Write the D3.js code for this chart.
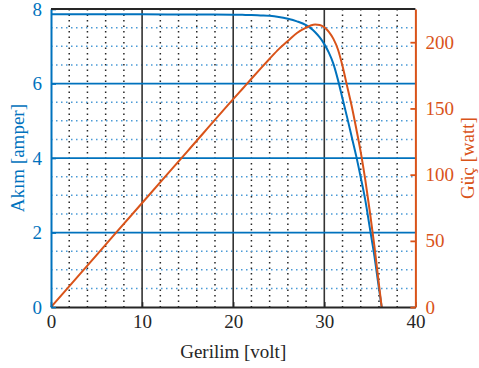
<!DOCTYPE html>
<html><head><meta charset="utf-8">
<script src="https://cdn.jsdelivr.net/npm/d3@7"></script>
<style>html,body{margin:0;padding:0;background:#fff;}svg{display:block;}
text{font-family:"Liberation Serif","Tinos","Times New Roman",Times,"Noto Serif","DejaVu Serif",serif;}</style>
</head><body>
<svg id="c" width="479" height="368"></svg>
<script>
// Data
const voltage = [0, 5, 10, 15, 20, 21, 22, 23, 24, 25, 26, 27, 28, 28.5, 29, 29.5, 30, 30.5, 31, 31.5, 32, 32.5, 33, 33.5, 34, 34.5, 35, 35.5, 36, 36.3];
const current = [7.86, 7.86, 7.86, 7.855, 7.85, 7.845, 7.84, 7.83, 7.82, 7.79, 7.74, 7.67, 7.57, 7.49, 7.38, 7.24, 7.06, 6.83, 6.53, 6.1, 5.6, 5.1, 4.58, 4.06, 3.48, 2.87, 2.12, 1.37, 0.5, 0];
const power = [0, 39.3, 78.6, 117.8, 157, 164.7, 172.4, 180, 187.5, 194.8, 201, 207, 211, 212.6, 213.4, 213, 211.3, 207.8, 202.5, 194.5, 182, 167, 152, 135, 117, 96, 72, 46, 17, 0];
const xTicks = [0, 10, 20, 30, 40];
const leftTicks = [0, 2, 4, 6, 8];
const rightTicks = [0, 50, 100, 150, 200];
const xMinor = [2, 4, 6, 8, 12, 14, 16, 18, 22, 24, 26, 28, 32, 34, 36, 38];
const yMinor = [0.5, 1, 1.5, 2.5, 3, 3.5, 4.5, 5, 5.5, 6.5, 7, 7.5];

const BLUE = "#0072BD", ORANGE = "#D95319", DARK = "#262626";
const L = 51, R = 415.4, T = 9.1, B = 307.1;

const svg = d3.select("#c");
const x = d3.scaleLinear().domain([0, 40]).range([L, R]);
const yL = d3.scaleLinear().domain([0, 8]).range([B, T]);
const yR = d3.scaleLinear().domain([0, 225]).range([B, T]);

// minor grid
svg.append("g").selectAll("line").data(xMinor).join("line")
  .attr("x1", d => x(d)).attr("x2", d => x(d)).attr("y1", T).attr("y2", B)
  .attr("stroke", DARK).attr("stroke-width", 1.5).attr("stroke-dasharray", "1.5,4");
svg.append("g").selectAll("line").data(yMinor).join("line")
  .attr("x1", L).attr("x2", R).attr("y1", d => yL(d)).attr("y2", d => yL(d))
  .attr("stroke", "#4a9ad6").attr("stroke-width", 1.5).attr("stroke-dasharray", "1.5,3.5");
// major grid
svg.append("g").selectAll("line").data(xTicks.slice(1, 4)).join("line")
  .attr("x1", d => x(d)).attr("x2", d => x(d)).attr("y1", T).attr("y2", B)
  .attr("stroke", "#333").attr("stroke-width", 1.6);
svg.append("g").selectAll("line").data(leftTicks.slice(1, 4)).join("line")
  .attr("x1", L).attr("x2", R).attr("y1", d => yL(d)).attr("y2", d => yL(d))
  .attr("stroke", BLUE).attr("stroke-width", 1.8);

// curves
const idx = d3.range(voltage.length);
svg.append("path").datum(idx)
  .attr("d", d3.line().x(i => x(voltage[i])).y(i => yL(current[i])).curve(d3.curveMonotoneX))
  .attr("fill", "none").attr("stroke", BLUE).attr("stroke-width", 2);
svg.append("path").datum(idx)
  .attr("d", d3.line().x(i => x(voltage[i])).y(i => yR(power[i])).curve(d3.curveMonotoneX))
  .attr("fill", "none").attr("stroke", ORANGE).attr("stroke-width", 2);

// axes
const ax = svg.append("g").attr("transform", `translate(0,${B})`)
  .call(d3.axisBottom(x).tickValues(xTicks).tickSizeInner(-5).tickSizeOuter(0).tickPadding(14));
ax.attr("font-family", null);
ax.select(".domain").attr("stroke", DARK).attr("stroke-width", 2);
ax.selectAll(".tick line").attr("stroke", DARK).attr("stroke-width", 1.5);
ax.selectAll("text").attr("font-size", 19).attr("fill", DARK).attr("dy", "0.35em");

const al = svg.append("g").attr("transform", `translate(${L},0)`)
  .call(d3.axisLeft(yL).tickValues(leftTicks).tickSizeInner(-5).tickSizeOuter(0).tickPadding(9));
al.attr("font-family", null);
al.select(".domain").attr("stroke", BLUE).attr("stroke-width", 2);
al.selectAll(".tick line").attr("stroke", BLUE).attr("stroke-width", 1.5);
al.selectAll("text").attr("font-size", 19).attr("fill", BLUE);

const ar = svg.append("g").attr("transform", `translate(${R},0)`)
  .call(d3.axisRight(yR).tickValues(rightTicks).tickSizeInner(-5).tickSizeOuter(0).tickPadding(10));
ar.attr("font-family", null);
ar.select(".domain").attr("stroke", ORANGE).attr("stroke-width", 2);
ar.selectAll(".tick line").attr("stroke", ORANGE).attr("stroke-width", 1.8);
ar.selectAll("text").attr("font-size", 19).attr("fill", ORANGE);

// top border
svg.append("line").attr("x1", L).attr("x2", R).attr("y1", T).attr("y2", T)
  .attr("stroke", DARK).attr("stroke-width", 2);

// axis titles
svg.append("text").attr("x", (L + R) / 2).attr("y", 358).attr("text-anchor", "middle")
  .attr("font-size", 19).attr("fill", DARK).text("Gerilim [volt]");
svg.append("text").attr("transform", `translate(24,${(T + B) / 2}) rotate(-90)`).attr("text-anchor", "middle")
  .attr("font-size", 19).attr("fill", BLUE).text("Akım [amper]");
svg.append("text").attr("transform", `translate(474,${(T + B) / 2}) rotate(-90)`).attr("text-anchor", "middle")
  .attr("font-size", 19).attr("fill", ORANGE).text("Güç [watt]");
</script>
</body></html>
